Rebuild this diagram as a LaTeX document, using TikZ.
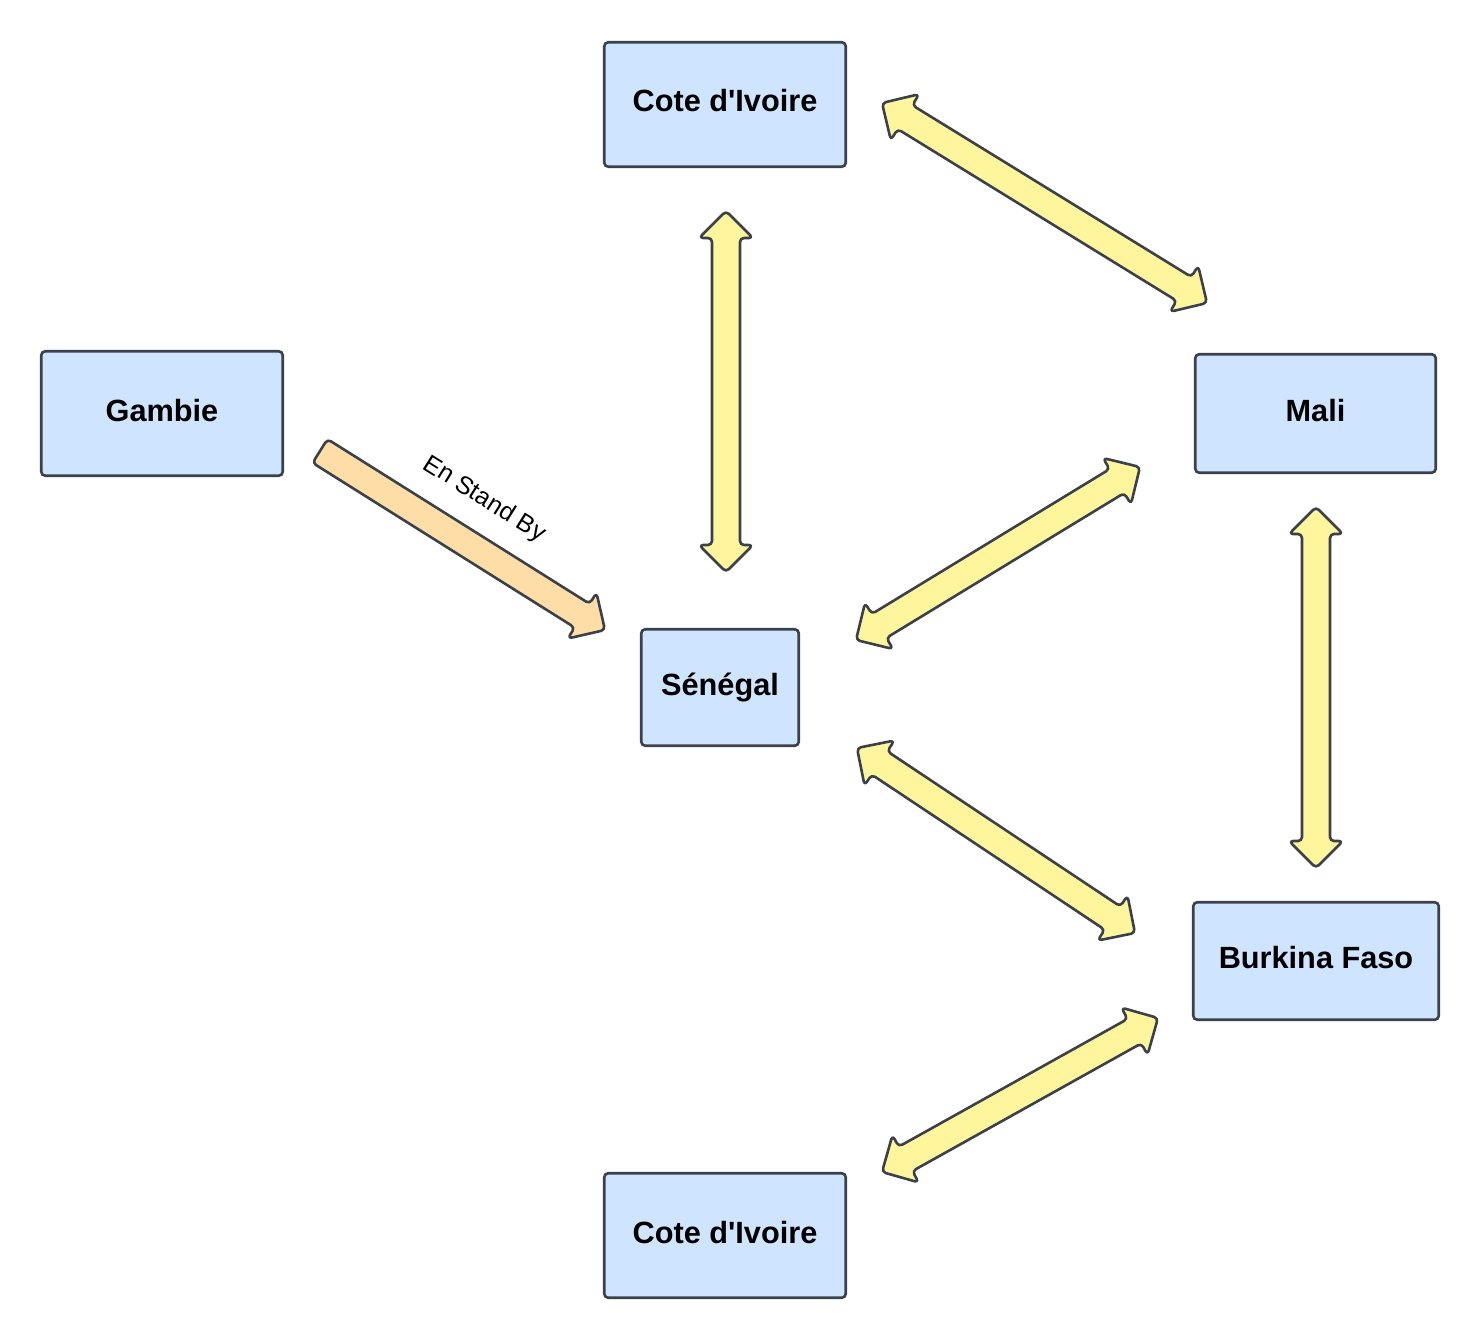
\documentclass[tikz,border=0pt]{standalone}
\usepackage{fontspec}
\setmainfont{Liberation Sans}
\usetikzlibrary{positioning,calc}

\definecolor{boxblue}{HTML}{CFE4FF}
\definecolor{boxline}{HTML}{3A414A}
\definecolor{linkyellow}{HTML}{FFF59D}
\definecolor{linkorange}{HTML}{FFDDA6}

\newcommand{\arrhead}{27pt}
\newcommand{\arrwing}{27pt}
\newcommand{\arrshaft}{14pt}

% block arrow with two heads, from #2 to #3
\newcommand{\blockarrow}[3][linkyellow]{%
  \draw[arrowline, fill=#1] (#2)
    -- ($(#2)!\arrhead!(#3)!\arrwing!90:(#3)$)
    -- ($(#2)!\arrhead!(#3)!\arrshaft!90:(#3)$)
    -- ($(#3)!\arrhead!(#2)!\arrshaft!-90:(#2)$)
    -- ($(#3)!\arrhead!(#2)!\arrwing!-90:(#2)$)
    -- (#3)
    -- ($(#3)!\arrhead!(#2)!\arrwing!90:(#2)$)
    -- ($(#3)!\arrhead!(#2)!\arrshaft!90:(#2)$)
    -- ($(#2)!\arrhead!(#3)!\arrshaft!-90:(#3)$)
    -- ($(#2)!\arrhead!(#3)!\arrwing!-90:(#3)$)
    -- cycle;}

% block arrow with one head, at #3
\newcommand{\singlearrow}[3][linkorange]{%
  \draw[arrowline, fill=#1] ($(#2)!\arrshaft!90:(#3)$)
    -- ($(#3)!\arrhead!(#2)!\arrshaft!-90:(#2)$)
    -- ($(#3)!\arrhead!(#2)!\arrwing!-90:(#2)$)
    -- (#3)
    -- ($(#3)!\arrhead!(#2)!\arrwing!90:(#2)$)
    -- ($(#3)!\arrhead!(#2)!\arrshaft!90:(#2)$)
    -- ($(#2)!\arrshaft!-90:(#3)$)
    -- cycle;}

\begin{document}
\begin{tikzpicture}[x=1pt, y=-1pt,
		countrynode/.style={rectangle, rounded corners=4pt, draw=boxline, fill=boxblue, line width=2.6pt,
			inner sep=0pt, text height=22pt, text depth=7pt, font=\bfseries\fontsize{30.7}{36}\selectfont},
		arrowline/.style={draw=boxline, line width=2.6pt, rounded corners=4pt, line join=round},
		]
		\useasboundingbox (0,0) rectangle (1480,1340);
		
		%Nodes
		\node[countrynode, minimum width=241.5pt, minimum height=124.5pt] (cihaut)   at (725,104.5)  {Cote d\textquotesingle Ivoire};
		\node[countrynode, minimum width=241.5pt, minimum height=124.5pt] (gambie)   at (162,413.5)  {Gambie};
		\node[countrynode, minimum width=240.5pt, minimum height=118.5pt] (mali)     at (1315.5,413.5) {Mali};
		\node[countrynode, minimum width=157.5pt, minimum height=116.5pt] (senegal)  at (720,687.5)  {Sénégal};
		\node[countrynode, minimum width=245.5pt, minimum height=117.5pt] (burkina)  at (1316,961)   {Burkina Faso};
		\node[countrynode, minimum width=241.5pt, minimum height=124.5pt] (cibas)    at (725,1235.5) {Cote d\textquotesingle Ivoire};
		
		%Arrow ends
		\coordinate (cihaut-s)  at (726,211);
		\coordinate (senegal-n) at (726,572);
		\coordinate (cihaut-e)  at (882,103);
		\coordinate (mali-nw)   at (1207,303);
		\coordinate (mali-sw)   at (1140,467);
		\coordinate (senegal-ne) at (856,640);
		\coordinate (mali-s)    at (1316,507);
		\coordinate (burkina-n) at (1316,868);
		\coordinate (senegal-se) at (857,748);
		\coordinate (burkina-w) at (1135,933);
		\coordinate (burkina-sw) at (1158,1018);
		\coordinate (cibas-e)   at (882,1172);
		\coordinate (gambie-e)  at (320,451);
		\coordinate (senegal-w) at (605,630);
		
		%Lines
		\blockarrow{cihaut-s}{senegal-n}
		\blockarrow{cihaut-e}{mali-nw}
		\blockarrow{mali-sw}{senegal-ne}
		\blockarrow{mali-s}{burkina-n}
		\blockarrow{senegal-se}{burkina-w}
		\blockarrow{burkina-sw}{cibas-e}
		\singlearrow{gambie-e}{senegal-w}
		\path (gambie-e) -- (senegal-w) node[pos=0.49, sloped, above=31pt, font=\fontsize{25}{29}\selectfont] {En Stand By};
	\end{tikzpicture}
\end{document}
